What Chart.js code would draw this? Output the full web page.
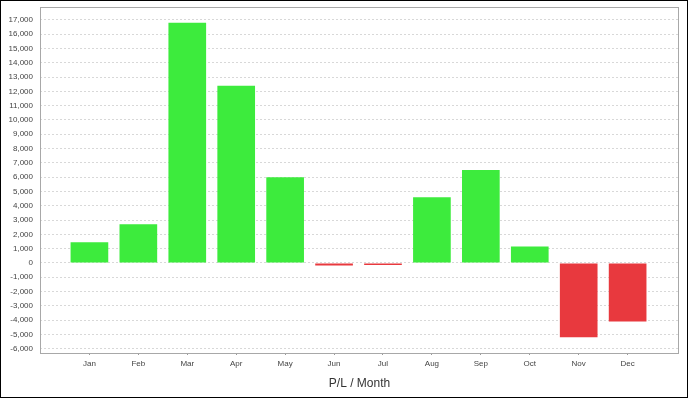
<!DOCTYPE html>
<html>
<head>
<meta charset="utf-8">
<script src="https://cdn.jsdelivr.net/npm/chart.js@4"></script>
<style>
  html, body { margin: 0; padding: 0; background: #fff; }
  #frame { width: 688px; height: 398px; box-sizing: border-box; border: 1px solid #000; }
</style>
</head>
<body>
<div id="frame"><canvas id="plChart" width="686" height="396"></canvas></div>
<script>
// monthly profit / loss
var months = ['Jan', 'Feb', 'Mar', 'Apr', 'May', 'Jun', 'Jul', 'Aug', 'Sep', 'Oct', 'Nov', 'Dec'];
var plValues = [1450, 2700, 16800, 12400, 6000, -180, -140, 4600, 6500, 1150, -5200, -4100];
var yTicks = [-6000, -5000, -4000, -3000, -2000, -1000, 0, 1000, 2000, 3000, 4000, 5000, 6000,
              7000, 8000, 9000, 10000, 11000, 12000, 13000, 14000, 15000, 16000, 17000];

var tickFont = { family: 'Liberation Sans, Arial, sans-serif', size: 8 };

// grey frame round the plot area
var plotFrame = {
    id: 'plotFrame',
    afterDraw: function(chart) {
        var a = chart.chartArea;
        var c = chart.ctx;
        c.save();
        c.strokeStyle = '#a8a8a8';
        c.lineWidth = 1;
        c.strokeRect(a.left + 0.5, a.top + 0.5, a.right - a.left - 1, a.bottom - a.top);
        c.restore();
    }
};

var ctx = document.getElementById('plChart').getContext('2d');
var plChart = new Chart(ctx, {
    type: 'bar',
    data: {
        datasets: [{
            data: months.map(function(m, i) { return { x: i, y: plValues[i] }; }),
            backgroundColor: plValues.map(function(v) { return v >= 0 ? '#3deb3d' : '#e8393e'; }),
            borderWidth: 0,
            barPercentage: 0.77,
            categoryPercentage: 1
        }]
    },
    plugins: [plotFrame],
    options: {
        responsive: false,
        animation: false,
        layout: { padding: { top: 6, right: 8, left: 0, bottom: 0 } },
        plugins: {
            legend: { display: false },
            tooltip: { enabled: false },
            title: { display: false }
        },
        scales: {
            x: {
                type: 'linear',
                offset: false,
                min: -1.01,
                max: 12.05,
                afterBuildTicks: function(scale) {
                    scale.ticks = months.map(function(m, i) { return { value: i }; });
                },
                afterFit: function(scale) { scale.height = 44; },
                grid: { display: true, offset: false, drawOnChartArea: false, tickLength: 2, color: '#999' },
                border: { display: false },
                ticks: {
                    font: tickFont,
                    color: '#444',
                    padding: 4,
                    maxRotation: 0,
                    autoSkip: false,
                    callback: function(value) { return months[value]; }
                },
                title: {
                    display: true,
                    text: 'P/L / Month',
                    color: '#333',
                    font: { family: 'Liberation Sans, Arial, sans-serif', size: 12 },
                    padding: { top: 0, bottom: 6 }
                }
            },
            y: {
                min: -6300,
                max: 17900,
                afterBuildTicks: function(scale) {
                    scale.ticks = yTicks.map(function(v) { return { value: v }; });
                },
                afterFit: function(scale) {
                    scale.width = 39;
                    scale.paddingTop = 0;
                    scale.paddingBottom = 0;
                },
                grid: { color: '#d8d8d8', drawTicks: false },
                border: { display: false, dash: [2, 2] },
                ticks: {
                    font: tickFont,
                    color: '#444',
                    padding: 7,
                    callback: function(value) { return value.toLocaleString('en-US'); }
                }
            }
        }
    }
});
</script>
</body>
</html>
